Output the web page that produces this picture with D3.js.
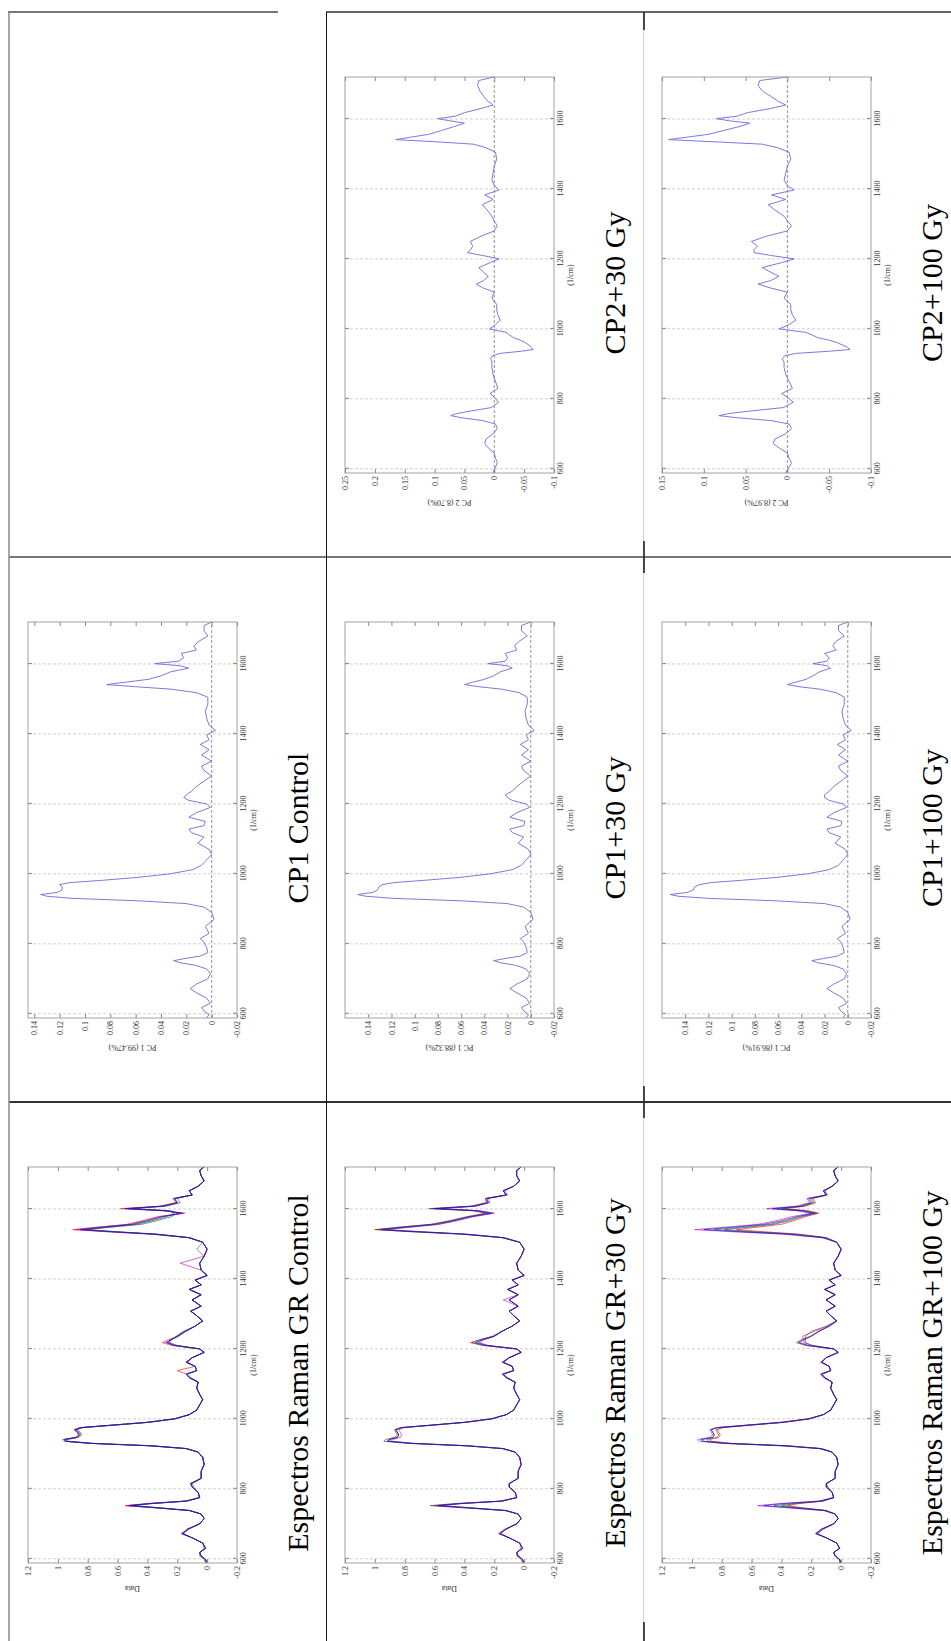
<!DOCTYPE html>
<html>
<head>
<meta charset="utf-8">
<script src="https://cdn.jsdelivr.net/npm/d3@7"></script>
<style>
  body { margin: 0; background: #fff; }
  svg text { font-family: "Liberation Serif", "DejaVu Serif", serif; }
</style>
</head>
<body>
<div id="chart"></div>
<script>
// wavenumber grid shared by every curve (1/cm)
const specWn = [
  588, 598, 608, 618, 630, 645, 660, 672, 685, 700,
  715, 728, 738, 746, 752, 758, 765, 775, 790, 805,
  815, 830, 850, 870, 890, 905, 915, 923, 930, 936,
  941, 947, 954, 962, 969, 975, 982, 990, 1000, 1012,
  1025, 1040, 1055, 1070, 1088, 1105, 1118, 1128, 1138, 1150,
  1162, 1175, 1190, 1200, 1210, 1218, 1226, 1236, 1250, 1265,
  1280, 1295, 1308, 1322, 1340, 1355, 1370, 1383, 1397, 1410,
  1425, 1445, 1465, 1485, 1505, 1518, 1528, 1535, 1541, 1548,
  1556, 1566, 1578, 1588, 1595, 1601, 1608, 1618, 1630, 1640,
  1652, 1665, 1680, 1695, 1710, 1720
];

// Raman spectra, GR control
const ctrl1 = [
  0.0, 0.01, 0.04, 0.05, 0.01, 0.03, 0.1, 0.17, 0.13, 0.05,
  0.02, 0.04, 0.12, 0.34, 0.52, 0.38, 0.14, 0.05, 0.06, 0.1,
  0.11, 0.04, 0.04, 0.02, 0.03, 0.06, 0.14, 0.38, 0.78, 0.95,
  0.96, 0.88, 0.86, 0.87, 0.89, 0.85, 0.64, 0.4, 0.22, 0.12,
  0.07, 0.05, 0.03, 0.05, 0.07, 0.06, 0.12, 0.14, 0.07, 0.08,
  0.14, 0.1, 0.02, 0.05, 0.22, 0.27, 0.24, 0.2, 0.15, 0.08,
  0.03, 0.07, 0.11, 0.04, 0.1, 0.04, 0.12, 0.04, 0.08, 0.0,
  0.04, 0.05, 0.02, 0.0, 0.03, 0.12, 0.35, 0.64, 0.85, 0.7,
  0.5, 0.4, 0.3, 0.17, 0.28, 0.55, 0.3, 0.2, 0.22, 0.1,
  0.12, 0.06, 0.02, 0.04, 0.05, 0.02
];
const ctrl2 = [
  0.01, 0.02, 0.05, 0.05, 0.02, 0.03, 0.1, 0.16, 0.12, 0.05,
  0.02, 0.04, 0.11, 0.32, 0.49, 0.36, 0.13, 0.05, 0.06, 0.09,
  0.1, 0.04, 0.04, 0.02, 0.03, 0.06, 0.13, 0.36, 0.76, 0.93,
  0.94, 0.86, 0.84, 0.85, 0.87, 0.83, 0.62, 0.39, 0.21, 0.12,
  0.07, 0.05, 0.03, 0.05, 0.07, 0.06, 0.11, 0.13, 0.07, 0.08,
  0.13, 0.1, 0.02, 0.05, 0.2, 0.25, 0.25, 0.19, 0.14, 0.08,
  0.03, 0.07, 0.11, 0.04, 0.1, 0.04, 0.12, 0.04, 0.08, 0.0,
  0.04, 0.05, 0.02, 0.0, 0.03, 0.12, 0.33, 0.6, 0.82, 0.64,
  0.44, 0.34, 0.24, 0.2, 0.24, 0.5, 0.27, 0.18, 0.2, 0.1,
  0.12, 0.06, 0.02, 0.04, 0.05, 0.03
];
const ctrl3 = [
  0.0, 0.01, 0.04, 0.05, 0.01, 0.03, 0.1, 0.17, 0.13, 0.05,
  0.02, 0.04, 0.12, 0.35, 0.54, 0.39, 0.14, 0.05, 0.06, 0.1,
  0.11, 0.04, 0.04, 0.02, 0.03, 0.06, 0.14, 0.37, 0.77, 0.94,
  0.95, 0.87, 0.85, 0.86, 0.88, 0.84, 0.63, 0.4, 0.22, 0.12,
  0.07, 0.05, 0.03, 0.05, 0.07, 0.06, 0.12, 0.14, 0.07, 0.08,
  0.14, 0.1, 0.02, 0.05, 0.21, 0.28, 0.24, 0.2, 0.15, 0.08,
  0.03, 0.07, 0.11, 0.04, 0.1, 0.04, 0.12, 0.04, 0.08, 0.0,
  0.04, 0.18, 0.02, 0.0, 0.03, 0.12, 0.36, 0.66, 0.88, 0.72,
  0.52, 0.42, 0.32, 0.15, 0.3, 0.52, 0.3, 0.2, 0.22, 0.1,
  0.12, 0.06, 0.02, 0.04, 0.05, 0.02
];
const ctrl4 = [
  0.01, 0.01, 0.04, 0.05, 0.01, 0.03, 0.1, 0.16, 0.13, 0.05,
  0.02, 0.04, 0.12, 0.33, 0.51, 0.37, 0.14, 0.05, 0.06, 0.1,
  0.11, 0.04, 0.04, 0.02, 0.03, 0.06, 0.14, 0.39, 0.79, 0.95,
  0.95, 0.87, 0.85, 0.86, 0.88, 0.84, 0.64, 0.41, 0.22, 0.12,
  0.07, 0.05, 0.03, 0.05, 0.07, 0.06, 0.12, 0.14, 0.07, 0.08,
  0.14, 0.1, 0.02, 0.05, 0.22, 0.26, 0.24, 0.21, 0.16, 0.08,
  0.03, 0.07, 0.11, 0.04, 0.1, 0.04, 0.12, 0.04, 0.08, 0.0,
  0.04, 0.05, 0.02, 0.07, 0.03, 0.12, 0.34, 0.62, 0.8, 0.66,
  0.47, 0.37, 0.27, 0.22, 0.26, 0.53, 0.29, 0.2, 0.22, 0.1,
  0.12, 0.06, 0.02, 0.04, 0.05, 0.02
];
const ctrl5 = [
  0.0, 0.01, 0.04, 0.05, 0.01, 0.03, 0.1, 0.17, 0.13, 0.05,
  0.02, 0.04, 0.12, 0.36, 0.55, 0.4, 0.15, 0.05, 0.06, 0.1,
  0.11, 0.04, 0.04, 0.02, 0.03, 0.06, 0.14, 0.38, 0.78, 0.95,
  0.96, 0.88, 0.86, 0.87, 0.89, 0.85, 0.64, 0.4, 0.22, 0.12,
  0.07, 0.05, 0.03, 0.05, 0.07, 0.06, 0.12, 0.14, 0.2, 0.08,
  0.14, 0.1, 0.02, 0.05, 0.24, 0.3, 0.26, 0.2, 0.15, 0.08,
  0.03, 0.07, 0.11, 0.04, 0.1, 0.04, 0.12, 0.04, 0.08, 0.0,
  0.04, 0.05, 0.02, 0.0, 0.03, 0.13, 0.38, 0.68, 0.9, 0.74,
  0.54, 0.44, 0.33, 0.16, 0.3, 0.58, 0.32, 0.21, 0.23, 0.1,
  0.12, 0.06, 0.02, 0.04, 0.05, 0.02
];
const ctrl6 = [
  0.0, 0.01, 0.04, 0.05, 0.01, 0.03, 0.1, 0.17, 0.13, 0.05,
  0.02, 0.04, 0.12, 0.34, 0.53, 0.38, 0.14, 0.05, 0.06, 0.1,
  0.11, 0.04, 0.04, 0.02, 0.03, 0.06, 0.14, 0.38, 0.79, 0.96,
  0.97, 0.88, 0.86, 0.87, 0.89, 0.85, 0.64, 0.4, 0.22, 0.12,
  0.07, 0.05, 0.03, 0.05, 0.07, 0.06, 0.12, 0.14, 0.07, 0.08,
  0.14, 0.1, 0.02, 0.05, 0.22, 0.27, 0.24, 0.2, 0.15, 0.08,
  0.03, 0.07, 0.11, 0.04, 0.1, 0.04, 0.12, 0.04, 0.08, 0.0,
  0.04, 0.05, 0.02, 0.0, 0.03, 0.12, 0.35, 0.63, 0.84, 0.69,
  0.49, 0.39, 0.29, 0.18, 0.27, 0.54, 0.3, 0.2, 0.22, 0.1,
  0.12, 0.06, 0.02, 0.04, 0.05, 0.02
];
const grControl = [ctrl1, ctrl2, ctrl3, ctrl4, ctrl5, ctrl6];

// Raman spectra, GR + 30 Gy
const gy30a = [
  0.0, 0.01, 0.04, 0.05, 0.01, 0.03, 0.1, 0.16, 0.12, 0.05,
  0.02, 0.04, 0.12, 0.38, 0.58, 0.42, 0.15, 0.05, 0.06, 0.1,
  0.1, 0.04, 0.04, 0.02, 0.03, 0.06, 0.14, 0.38, 0.76, 0.92,
  0.9, 0.85, 0.84, 0.85, 0.86, 0.82, 0.62, 0.4, 0.22, 0.12,
  0.07, 0.05, 0.03, 0.05, 0.07, 0.06, 0.12, 0.14, 0.07, 0.08,
  0.14, 0.1, 0.02, 0.05, 0.25, 0.32, 0.28, 0.2, 0.15, 0.08,
  0.03, 0.07, 0.1, 0.04, 0.1, 0.04, 0.11, 0.04, 0.08, 0.0,
  0.04, 0.05, 0.02, 0.0, 0.03, 0.14, 0.4, 0.72, 0.96, 0.8,
  0.6, 0.48, 0.36, 0.22, 0.32, 0.6, 0.34, 0.24, 0.25, 0.12,
  0.14, 0.07, 0.03, 0.05, 0.05, 0.02
];
const gy30b = [
  0.01, 0.02, 0.05, 0.05, 0.02, 0.03, 0.1, 0.17, 0.13, 0.05,
  0.02, 0.04, 0.13, 0.41, 0.63, 0.46, 0.16, 0.05, 0.06, 0.1,
  0.1, 0.04, 0.04, 0.02, 0.03, 0.06, 0.15, 0.4, 0.78, 0.94,
  0.93, 0.87, 0.85, 0.86, 0.87, 0.83, 0.63, 0.41, 0.22, 0.12,
  0.07, 0.05, 0.03, 0.05, 0.07, 0.06, 0.12, 0.15, 0.07, 0.08,
  0.15, 0.1, 0.02, 0.05, 0.27, 0.35, 0.3, 0.21, 0.15, 0.08,
  0.03, 0.07, 0.1, 0.04, 0.1, 0.04, 0.11, 0.04, 0.08, 0.0,
  0.04, 0.05, 0.02, 0.0, 0.03, 0.15, 0.42, 0.76, 1.0, 0.84,
  0.63, 0.5, 0.38, 0.24, 0.34, 0.64, 0.36, 0.25, 0.26, 0.12,
  0.14, 0.07, 0.03, 0.05, 0.05, 0.02
];
const gy30c = [
  0.0, 0.01, 0.04, 0.05, 0.01, 0.03, 0.1, 0.16, 0.12, 0.05,
  0.02, 0.04, 0.12, 0.36, 0.55, 0.41, 0.14, 0.05, 0.06, 0.1,
  0.1, 0.04, 0.04, 0.02, 0.03, 0.06, 0.14, 0.37, 0.74, 0.89,
  0.88, 0.83, 0.82, 0.83, 0.84, 0.8, 0.61, 0.39, 0.21, 0.12,
  0.07, 0.05, 0.03, 0.05, 0.07, 0.06, 0.11, 0.14, 0.07, 0.08,
  0.14, 0.1, 0.02, 0.05, 0.24, 0.3, 0.27, 0.2, 0.15, 0.08,
  0.03, 0.07, 0.1, 0.04, 0.14, 0.04, 0.11, 0.04, 0.08, 0.0,
  0.04, 0.05, 0.02, 0.0, 0.03, 0.13, 0.38, 0.69, 0.92, 0.76,
  0.57, 0.45, 0.34, 0.2, 0.3, 0.55, 0.32, 0.23, 0.24, 0.11,
  0.13, 0.07, 0.03, 0.05, 0.05, 0.02
];
const gy30d = [
  0.0, 0.01, 0.04, 0.05, 0.01, 0.03, 0.1, 0.16, 0.12, 0.05,
  0.02, 0.04, 0.12, 0.37, 0.57, 0.42, 0.15, 0.05, 0.06, 0.1,
  0.1, 0.04, 0.04, 0.02, 0.03, 0.06, 0.14, 0.38, 0.75, 0.91,
  0.91, 0.85, 0.84, 0.85, 0.86, 0.82, 0.62, 0.4, 0.22, 0.12,
  0.07, 0.05, 0.03, 0.05, 0.07, 0.06, 0.12, 0.14, 0.07, 0.08,
  0.14, 0.1, 0.02, 0.05, 0.26, 0.33, 0.28, 0.2, 0.15, 0.08,
  0.03, 0.07, 0.1, 0.04, 0.1, 0.04, 0.11, 0.04, 0.08, 0.0,
  0.04, 0.05, 0.02, 0.0, 0.03, 0.14, 0.39, 0.7, 0.94, 0.78,
  0.58, 0.47, 0.35, 0.21, 0.31, 0.58, 0.33, 0.24, 0.25, 0.12,
  0.14, 0.07, 0.03, 0.05, 0.05, 0.02
];
const gy30e = [
  0.01, 0.01, 0.04, 0.05, 0.01, 0.03, 0.1, 0.17, 0.12, 0.05,
  0.02, 0.04, 0.13, 0.4, 0.61, 0.44, 0.15, 0.05, 0.06, 0.1,
  0.1, 0.04, 0.04, 0.02, 0.03, 0.06, 0.14, 0.38, 0.75, 0.9,
  0.9, 0.85, 0.84, 0.85, 0.86, 0.82, 0.62, 0.4, 0.22, 0.12,
  0.07, 0.05, 0.03, 0.05, 0.07, 0.06, 0.12, 0.14, 0.07, 0.08,
  0.14, 0.1, 0.02, 0.05, 0.28, 0.36, 0.3, 0.21, 0.15, 0.08,
  0.03, 0.07, 0.1, 0.04, 0.1, 0.04, 0.11, 0.04, 0.08, 0.0,
  0.04, 0.05, 0.02, 0.0, 0.03, 0.15, 0.41, 0.75, 0.99, 0.83,
  0.62, 0.5, 0.38, 0.26, 0.34, 0.62, 0.35, 0.25, 0.26, 0.12,
  0.14, 0.07, 0.03, 0.05, 0.05, 0.02
];
const grGy30 = [gy30a, gy30b, gy30c, gy30d, gy30e];

// Raman spectra, GR + 100 Gy
const gy100a = [
  0.0, 0.01, 0.04, 0.05, 0.01, 0.03, 0.1, 0.17, 0.13, 0.05,
  0.02, 0.04, 0.11, 0.34, 0.52, 0.38, 0.14, 0.05, 0.06, 0.1,
  0.1, 0.04, 0.04, 0.02, 0.03, 0.06, 0.14, 0.38, 0.78, 0.93,
  0.94, 0.86, 0.85, 0.86, 0.87, 0.83, 0.63, 0.4, 0.22, 0.12,
  0.07, 0.05, 0.03, 0.05, 0.07, 0.06, 0.11, 0.13, 0.07, 0.08,
  0.13, 0.1, 0.02, 0.05, 0.22, 0.28, 0.25, 0.2, 0.15, 0.08,
  0.03, 0.07, 0.1, 0.04, 0.1, 0.04, 0.11, 0.04, 0.08, 0.0,
  0.04, 0.05, 0.02, 0.0, 0.03, 0.12, 0.36, 0.68, 0.92, 0.72,
  0.52, 0.4, 0.3, 0.18, 0.28, 0.46, 0.28, 0.2, 0.22, 0.1,
  0.12, 0.06, 0.02, 0.04, 0.05, 0.02
];
const gy100b = [
  0.01, 0.01, 0.04, 0.05, 0.01, 0.03, 0.1, 0.16, 0.12, 0.05,
  0.02, 0.04, 0.1, 0.28, 0.4, 0.3, 0.12, 0.05, 0.06, 0.09,
  0.1, 0.04, 0.04, 0.02, 0.03, 0.06, 0.13, 0.36, 0.75, 0.89,
  0.9, 0.83, 0.82, 0.83, 0.84, 0.8, 0.61, 0.39, 0.21, 0.12,
  0.07, 0.05, 0.03, 0.05, 0.07, 0.06, 0.11, 0.13, 0.07, 0.08,
  0.13, 0.1, 0.02, 0.05, 0.19, 0.24, 0.24, 0.24, 0.2, 0.1,
  0.03, 0.07, 0.1, 0.04, 0.1, 0.04, 0.11, 0.04, 0.08, 0.0,
  0.04, 0.05, 0.02, 0.0, 0.03, 0.1, 0.3, 0.58, 0.78, 0.62,
  0.45, 0.35, 0.26, 0.16, 0.24, 0.4, 0.25, 0.18, 0.2, 0.1,
  0.11, 0.06, 0.02, 0.04, 0.05, 0.02
];
const gy100c = [
  0.0, 0.01, 0.04, 0.05, 0.01, 0.03, 0.1, 0.17, 0.13, 0.05,
  0.02, 0.04, 0.12, 0.37, 0.56, 0.41, 0.15, 0.05, 0.06, 0.1,
  0.1, 0.04, 0.04, 0.02, 0.03, 0.06, 0.15, 0.4, 0.8, 0.95,
  0.96, 0.88, 0.86, 0.87, 0.88, 0.84, 0.64, 0.41, 0.22, 0.12,
  0.07, 0.05, 0.03, 0.05, 0.07, 0.06, 0.12, 0.14, 0.07, 0.08,
  0.14, 0.1, 0.02, 0.05, 0.23, 0.29, 0.26, 0.2, 0.15, 0.08,
  0.03, 0.07, 0.1, 0.04, 0.1, 0.04, 0.11, 0.04, 0.08, 0.0,
  0.04, 0.05, 0.02, 0.0, 0.03, 0.13, 0.39, 0.73, 0.98, 0.78,
  0.56, 0.44, 0.33, 0.2, 0.3, 0.5, 0.3, 0.21, 0.23, 0.1,
  0.12, 0.06, 0.02, 0.04, 0.05, 0.02
];
const gy100d = [
  0.0, 0.01, 0.04, 0.05, 0.01, 0.03, 0.1, 0.17, 0.13, 0.05,
  0.02, 0.04, 0.11, 0.3, 0.45, 0.33, 0.13, 0.05, 0.06, 0.1,
  0.1, 0.04, 0.04, 0.02, 0.03, 0.06, 0.14, 0.38, 0.77, 0.92,
  0.93, 0.86, 0.85, 0.86, 0.87, 0.83, 0.63, 0.4, 0.22, 0.12,
  0.07, 0.05, 0.03, 0.05, 0.07, 0.06, 0.11, 0.13, 0.07, 0.08,
  0.13, 0.1, 0.02, 0.05, 0.24, 0.3, 0.27, 0.21, 0.15, 0.08,
  0.03, 0.07, 0.1, 0.04, 0.1, 0.04, 0.11, 0.04, 0.08, 0.0,
  0.04, 0.05, 0.02, 0.0, 0.03, 0.11, 0.33, 0.63, 0.85, 0.67,
  0.48, 0.37, 0.28, 0.17, 0.26, 0.43, 0.27, 0.19, 0.21, 0.1,
  0.12, 0.06, 0.02, 0.04, 0.05, 0.02
];
const gy100e = [
  0.01, 0.01, 0.04, 0.05, 0.01, 0.03, 0.1, 0.16, 0.12, 0.05,
  0.02, 0.04, 0.1, 0.26, 0.36, 0.28, 0.12, 0.05, 0.06, 0.09,
  0.1, 0.04, 0.04, 0.02, 0.03, 0.06, 0.13, 0.35, 0.73, 0.87,
  0.88, 0.82, 0.81, 0.82, 0.83, 0.79, 0.6, 0.38, 0.21, 0.12,
  0.07, 0.05, 0.03, 0.05, 0.07, 0.06, 0.11, 0.13, 0.07, 0.08,
  0.13, 0.1, 0.02, 0.05, 0.2, 0.25, 0.25, 0.26, 0.18, 0.09,
  0.03, 0.07, 0.1, 0.04, 0.1, 0.04, 0.11, 0.04, 0.08, 0.0,
  0.04, 0.05, 0.02, 0.0, 0.03, 0.1, 0.28, 0.52, 0.7, 0.56,
  0.4, 0.32, 0.24, 0.15, 0.22, 0.38, 0.24, 0.17, 0.19, 0.09,
  0.11, 0.06, 0.02, 0.04, 0.05, 0.02
];
const grGy100 = [gy100a, gy100b, gy100c, gy100d, gy100e];

// principal component loadings
const cp1Control = [
  0.004, 0.002, 0.006, 0.008, 0.001, 0.004, 0.012, 0.017, 0.012, 0.003,
  0.001, 0.004, 0.012, 0.025, 0.03, 0.021, 0.009, 0.003, 0.004, 0.006,
  0.009, 0.002, 0.005, -0.002, 0.0, 0.006, 0.02, 0.058, 0.11, 0.13,
  0.135, 0.122, 0.118, 0.118, 0.12, 0.112, 0.085, 0.058, 0.033, 0.015,
  0.008, 0.004, 0.0, 0.002, 0.011, 0.006, 0.016, 0.018, 0.006, 0.005,
  0.018, 0.012, 0.001, 0.004, 0.018, 0.022, 0.02, 0.016, 0.012, 0.006,
  0.0, 0.006, 0.008, 0.0, 0.008, 0.002, 0.009, 0.002, 0.004, -0.003,
  0.002, 0.004, 0.005, 0.003, 0.003, 0.012, 0.032, 0.06, 0.083, 0.068,
  0.05, 0.04, 0.032, 0.018, 0.025, 0.045, 0.026, 0.022, 0.024, 0.012,
  0.014, 0.01, 0.003, 0.006, 0.006, 0.0
];
const cp1Gy30 = [
  0.004, 0.002, 0.006, 0.008, 0.001, 0.004, 0.012, 0.018, 0.012, 0.003,
  0.001, 0.004, 0.012, 0.026, 0.032, 0.022, 0.009, 0.003, 0.004, 0.006,
  0.009, 0.002, 0.005, -0.002, 0.0, 0.006, 0.02, 0.06, 0.118, 0.142,
  0.149, 0.136, 0.132, 0.131, 0.128, 0.118, 0.09, 0.061, 0.035, 0.016,
  0.008, 0.004, 0.0, 0.002, 0.011, 0.006, 0.016, 0.018, 0.006, 0.005,
  0.018, 0.012, 0.001, 0.004, 0.016, 0.02, 0.022, 0.016, 0.012, 0.006,
  0.0, 0.006, 0.008, 0.0, 0.008, 0.002, 0.009, 0.002, 0.004, -0.003,
  0.002, 0.004, 0.005, 0.003, 0.003, 0.01, 0.025, 0.045, 0.057, 0.05,
  0.04, 0.032, 0.026, 0.016, 0.02, 0.037, 0.022, 0.02, 0.022, 0.012,
  0.014, 0.01, 0.003, 0.008, 0.008, 0.0
];
const cp1Gy100 = [
  0.004, 0.002, 0.006, 0.008, 0.001, 0.004, 0.012, 0.018, 0.012, 0.003,
  0.001, 0.004, 0.012, 0.026, 0.031, 0.021, 0.009, 0.003, 0.004, 0.006,
  0.009, 0.002, 0.005, -0.002, 0.0, 0.006, 0.02, 0.062, 0.12, 0.146,
  0.153, 0.138, 0.133, 0.132, 0.128, 0.118, 0.09, 0.061, 0.035, 0.016,
  0.008, 0.004, 0.0, 0.002, 0.011, 0.006, 0.016, 0.018, 0.006, 0.005,
  0.018, 0.012, 0.001, 0.004, 0.016, 0.02, 0.02, 0.016, 0.012, 0.006,
  0.0, 0.006, 0.008, 0.0, 0.008, 0.002, 0.009, 0.002, 0.004, -0.003,
  0.002, 0.004, 0.005, 0.003, 0.003, 0.01, 0.024, 0.042, 0.052, 0.045,
  0.036, 0.03, 0.024, 0.015, 0.018, 0.03, 0.018, 0.016, 0.02, 0.01,
  0.013, 0.01, 0.003, 0.008, 0.008, 0.0
];
const cp2Gy30 = [
  0.002, 0.0, -0.003, -0.005, -0.002, 0.0, 0.01, 0.016, 0.014, 0.002,
  -0.005, -0.002, 0.02, 0.055, 0.073, 0.062, 0.04, 0.005, -0.007, 0.0,
  0.007, -0.006, -0.002, 0.002, 0.004, 0.004, 0.006, 0.003, -0.01, -0.045,
  -0.065, -0.062, -0.058, -0.05, -0.042, -0.032, -0.026, -0.02, 0.008, -0.002,
  -0.01, -0.006, -0.004, -0.004, 0.004, 0.0, 0.02, 0.03, 0.018, 0.01,
  0.018, 0.026, 0.006, -0.008, 0.02, 0.045, 0.04, 0.036, 0.04, 0.022,
  0.0, -0.005, 0.0, 0.004, 0.012, 0.02, 0.002, 0.016, -0.008, 0.0,
  0.004, 0.002, 0.0, -0.004, -0.002, 0.014, 0.035, 0.1, 0.165, 0.14,
  0.11, 0.09, 0.068, 0.05, 0.075, 0.095, 0.065, 0.05, 0.022, 0.002,
  0.012, 0.018, 0.024, 0.028, 0.026, 0.0
];
const cp2Gy100 = [
  0.002, 0.0, -0.003, -0.005, -0.002, 0.0, 0.01, 0.017, 0.015, 0.002,
  -0.005, -0.002, 0.02, 0.06, 0.082, 0.07, 0.045, 0.005, -0.007, 0.0,
  0.007, -0.006, -0.002, 0.002, 0.004, 0.004, 0.006, 0.003, -0.01, -0.05,
  -0.075, -0.072, -0.066, -0.058, -0.048, -0.036, -0.03, -0.022, 0.01, -0.002,
  -0.01, -0.006, -0.004, -0.004, 0.004, 0.0, 0.022, 0.035, 0.02, 0.01,
  0.02, 0.03, 0.006, -0.008, 0.02, 0.04, 0.04, 0.036, 0.043, 0.025,
  0.0, -0.005, 0.0, 0.004, 0.015, 0.023, 0.002, 0.019, -0.008, 0.0,
  0.004, 0.002, 0.0, -0.004, -0.002, 0.012, 0.03, 0.09, 0.142, 0.12,
  0.095, 0.078, 0.058, 0.045, 0.07, 0.085, 0.06, 0.048, 0.02, 0.002,
  0.012, 0.02, 0.03, 0.035, 0.033, 0.0
];

// axis ticks
const wnTicks = [600, 800, 1000, 1200, 1400, 1600];
const specTicks = [-0.2, 0, 0.2, 0.4, 0.6, 0.8, 1, 1.2];
const cp1Ticks = [-0.02, 0, 0.02, 0.04, 0.06, 0.08, 0.1, 0.12, 0.14];
const cp2Gy30Ticks = [-0.1, -0.05, 0, 0.05, 0.1, 0.15, 0.2, 0.25];
const cp2Gy100Ticks = [-0.1, -0.05, 0, 0.05, 0.1, 0.15];

// matlab style line colours
const lineColors = ["#0000ff", "#404040", "#bf00bf", "#008000", "#ff0000", "#00bfbf", "#bfbf00"];
const pcColor = "#6b6bd9";

const panels = [
  { col: 1, row: 0, title: "CP2+30 Gy", ylabel: "PC 2 (8.70%)", domain: [-0.1, 0.25], ticks: cp2Gy30Ticks, lines: [cp2Gy30], pc: true },
  { col: 2, row: 0, title: "CP2+100 Gy", ylabel: "PC 2 (8.97%)", domain: [-0.1, 0.15], ticks: cp2Gy100Ticks, lines: [cp2Gy100], pc: true },
  { col: 0, row: 1, title: "CP1 Control", ylabel: "PC 1 (99.47%)", domain: [-0.02, 0.145], ticks: cp1Ticks, lines: [cp1Control], pc: true },
  { col: 1, row: 1, title: "CP1+30 Gy", ylabel: "PC 1 (88.32%)", domain: [-0.02, 0.16], ticks: cp1Ticks, lines: [cp1Gy30], pc: true },
  { col: 2, row: 1, title: "CP1+100 Gy", ylabel: "PC 1 (86.91%)", domain: [-0.02, 0.16], ticks: cp1Ticks, lines: [cp1Gy100], pc: true },
  { col: 0, row: 2, title: "Espectros Raman GR Control", ylabel: "Data", domain: [-0.2, 1.2], ticks: specTicks, lines: grControl, pc: false },
  { col: 1, row: 2, title: "Espectros Raman GR+30 Gy", ylabel: "Data", domain: [-0.2, 1.2], ticks: specTicks, lines: grGy30, pc: false },
  { col: 2, row: 2, title: "Espectros Raman GR+100 Gy", ylabel: "Data", domain: [-0.2, 1.2], ticks: specTicks, lines: grGy100, pc: false }
];

const width = 951, height = 1641;
const colX = [9, 326, 643];
const rowY = [12, 557, 1102];
const W = 396, H = 209; // plot size before the quarter turn

const svg = d3.select("#chart").append("svg")
    .attr("width", width)
    .attr("height", height);

panels.forEach(p => {
    let tx = colX[p.col] + 19;
    let ty = rowY[p.row] + 461;

    // each chart is drawn upright and then turned a quarter turn anticlockwise
    let g = svg.append("g")
        .attr("transform", "translate(" + tx + "," + ty + ") rotate(-90)");

    let x = d3.scaleLinear().domain([588, 1720]).range([0, W]);
    let y = d3.scaleLinear().domain(p.domain).range([H, 0]);

    // vertical grid at the x ticks
    g.selectAll(".grid").data(wnTicks).enter().append("line")
        .attr("x1", d => x(d)).attr("x2", d => x(d))
        .attr("y1", 0).attr("y2", H)
        .attr("stroke", "#cfcfcf")
        .attr("stroke-dasharray", "3,2");

    if (p.pc) {
        g.append("line")
            .attr("x1", 0).attr("x2", W)
            .attr("y1", y(0)).attr("y2", y(0))
            .attr("stroke", "#777")
            .attr("stroke-width", 0.8)
            .attr("stroke-dasharray", "3,2");
    }

    let line = d3.line()
        .x((d, i) => x(specWn[i]))
        .y(d => y(d));

    // first series ends up on top
    let series = p.lines.map((v, i) => ({ v: v, c: p.pc ? pcColor : lineColors[i % lineColors.length] })).reverse();

    g.selectAll(".series").data(series).enter().append("path")
        .attr("d", d => line(d.v))
        .attr("fill", "none")
        .attr("stroke", d => d.c)
        .attr("stroke-width", p.pc ? 0.9 : 0.6);

    // axes, ticks pointing inside
    let fmt = d => String(d);
    let axB = g.append("g").attr("transform", "translate(0," + H + ")")
        .call(d3.axisBottom(x).tickValues(wnTicks).tickSizeInner(-4).tickSizeOuter(0).tickPadding(3).tickFormat(fmt));
    let axT = g.append("g")
        .call(d3.axisTop(x).tickValues(wnTicks).tickSizeInner(-4).tickSizeOuter(0).tickFormat(""));
    let axL = g.append("g")
        .call(d3.axisLeft(y).tickValues(p.ticks).tickSizeInner(-4).tickSizeOuter(0).tickPadding(3).tickFormat(fmt));
    let axR = g.append("g").attr("transform", "translate(" + W + ",0)")
        .call(d3.axisRight(y).tickValues(p.ticks).tickSizeInner(-4).tickSizeOuter(0).tickFormat(""));

    [axB, axT, axL, axR].forEach(a => {
        a.select(".domain").remove();
        a.selectAll("line").attr("stroke", "#888");
        a.selectAll("text").attr("fill", "#333").style("font-size", "8px");
    });

    g.append("rect")
        .attr("width", W).attr("height", H)
        .attr("fill", "none")
        .attr("stroke", "#999")
        .attr("stroke-width", 0.9);

    g.append("text")
        .attr("x", W / 2).attr("y", H + 19)
        .attr("text-anchor", "middle")
        .attr("fill", "#333")
        .style("font-size", "8px")
        .text("(1/cm)");

    g.append("text")
        .attr("transform", "translate(" + (p.pc ? -27 : -23) + "," + (H / 2) + ") rotate(-90)")
        .attr("text-anchor", "middle")
        .attr("fill", "#333")
        .style("font-size", "8px")
        .text(p.ylabel);

    g.append("text")
        .attr("x", W / 2 - 8).attr("y", H + 71)
        .attr("text-anchor", "middle")
        .attr("fill", "#000")
        .style("font-size", "30px")
        .text(p.title);
});

// table rules
const hRules = [
    { x1: 8, x2: 278, y: 12, c: "#777", w: 2 },
    { x1: 326, x2: 951, y: 12, c: "#666", w: 2 },
    { x1: 9, x2: 951, y: 557, c: "#777", w: 2 },
    { x1: 9, x2: 951, y: 1102, c: "#333", w: 2 }
];
const vRules = [
    { x: 9, y1: 12, y2: 1641, c: "#888", w: 1.5 },
    { x: 326.5, y1: 12, y2: 1641, c: "#111", w: 1 },
    { x: 643.5, y1: 12, y2: 1641, c: "#cfcfcf", w: 1 },
    { x: 644, y1: 12, y2: 30, c: "#111", w: 1.5 },
    { x: 644, y1: 541, y2: 573, c: "#111", w: 1.5 },
    { x: 644, y1: 1086, y2: 1118, c: "#111", w: 1.5 },
    { x: 644, y1: 1622, y2: 1641, c: "#111", w: 1.5 }
];
svg.selectAll(".hrule").data(hRules).enter().append("line")
    .attr("x1", d => d.x1).attr("x2", d => d.x2)
    .attr("y1", d => d.y).attr("y2", d => d.y)
    .attr("stroke", d => d.c).attr("stroke-width", d => d.w);
svg.selectAll(".vrule").data(vRules).enter().append("line")
    .attr("x1", d => d.x).attr("x2", d => d.x)
    .attr("y1", d => d.y1).attr("y2", d => d.y2)
    .attr("stroke", d => d.c).attr("stroke-width", d => d.w);
</script>
</body>
</html>
